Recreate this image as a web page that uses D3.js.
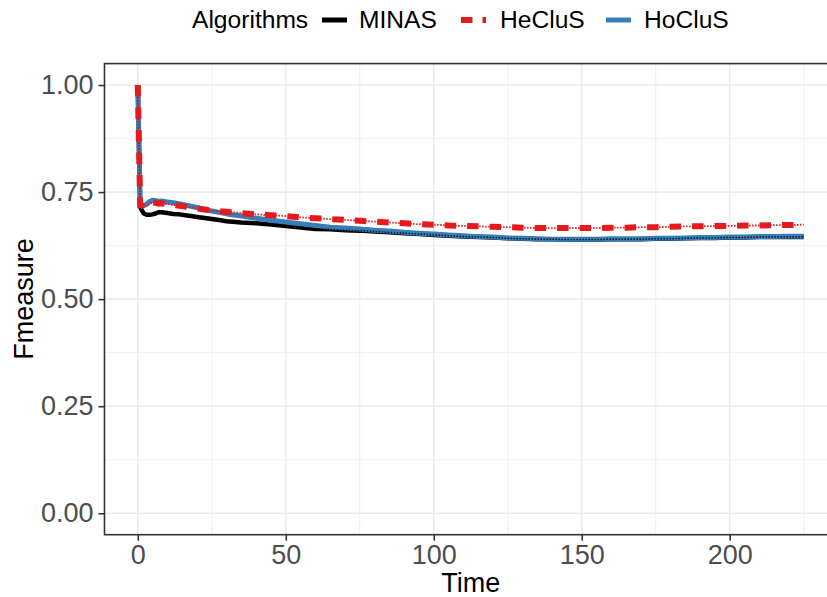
<!DOCTYPE html>
<html><head><meta charset="utf-8">
<script src="https://cdn.jsdelivr.net/npm/d3@7"></script>
<style>body{margin:0;background:#fff}svg{display:block}text{font-family:"Liberation Sans",Arial,sans-serif}</style>
</head><body>
<svg id="c" width="827" height="597"></svg>
<script>
const times = [0,0.8,1,2,3,4,5,6,7,8,10,12,14,16,18,20,22,25,28,30,35,40,45,50,55,60,65,70,75,80,85,90,95,100,105,110,115,120,125,130,135,140,145,150,155,160,165,170,175,180,185,190,195,200,205,210,215,220,225];
const minas = [1.0,0.72,0.712,0.70,0.697,0.697,0.698,0.70,0.703,0.703,0.701,0.699,0.698,0.696,0.694,0.692,0.69,0.687,0.684,0.682,0.679,0.677,0.674,0.671,0.667,0.664,0.663,0.661,0.66,0.658,0.656,0.654,0.652,0.65,0.648,0.646,0.645,0.644,0.642,0.641,0.64,0.64,0.639,0.639,0.639,0.64,0.64,0.64,0.641,0.641,0.642,0.643,0.643,0.644,0.644,0.645,0.645,0.645,0.645];
const heclus = [1.0,0.72,0.72,0.715,0.718,0.722,0.726,0.725,0.723,0.724,0.722,0.72,0.718,0.716,0.714,0.712,0.71,0.707,0.705,0.704,0.701,0.698,0.696,0.694,0.691,0.689,0.687,0.685,0.683,0.681,0.679,0.677,0.675,0.674,0.672,0.671,0.67,0.669,0.668,0.667,0.666,0.666,0.666,0.666,0.666,0.667,0.667,0.668,0.668,0.669,0.67,0.67,0.671,0.671,0.672,0.672,0.673,0.673,0.674];
const hoclus = [1.0,0.722,0.722,0.718,0.722,0.728,0.731,0.73,0.728,0.729,0.727,0.725,0.723,0.72,0.717,0.714,0.71,0.706,0.702,0.699,0.694,0.689,0.684,0.68,0.676,0.672,0.668,0.666,0.664,0.661,0.659,0.656,0.654,0.652,0.65,0.648,0.646,0.645,0.643,0.642,0.641,0.64,0.64,0.64,0.64,0.641,0.641,0.641,0.642,0.642,0.643,0.644,0.644,0.645,0.645,0.646,0.646,0.647,0.647];
const xTicks = [0,50,100,150,200];
const xMinor = [25,75,125,175,225];
const yTicks = [0,0.25,0.5,0.75,1.0];
const yMinor = [0.125,0.375,0.625,0.875];
const legendTitle = "Algorithms";
const seriesNames = ["MINAS","HeCluS","HoCluS"];

const svg = d3.select("#c");
const L = 104.5, R = 837, T = 63.6, B = 534.7;
const x = d3.scaleLinear().domain([-11.25, 236.25]).range([L, R]);
const y = d3.scaleLinear().domain([-0.05, 1.05]).range([B, T]);

svg.append("defs").append("clipPath").attr("id","clip")
  .append("rect").attr("x",L).attr("y",T).attr("width",R-L).attr("height",B-T);

const g = svg.append("g");
g.selectAll(".xm").data(xMinor).join("line").attr("x1",d=>x(d)).attr("x2",d=>x(d)).attr("y1",T).attr("y2",B).attr("stroke","#EBEBEB").attr("stroke-width",0.8);
g.selectAll(".ym").data(yMinor).join("line").attr("y1",d=>y(d)).attr("y2",d=>y(d)).attr("x1",L).attr("x2",R).attr("stroke","#EBEBEB").attr("stroke-width",0.8);
g.selectAll(".xg").data(xTicks).join("line").attr("x1",d=>x(d)).attr("x2",d=>x(d)).attr("y1",T).attr("y2",B).attr("stroke","#EBEBEB").attr("stroke-width",1.6);
g.selectAll(".yg").data(yTicks).join("line").attr("y1",d=>y(d)).attr("y2",d=>y(d)).attr("x1",L).attr("x2",R).attr("stroke","#EBEBEB").attr("stroke-width",1.6);

const line = vals => d3.line().x((d,i)=>x(times[i])).y(d=>y(d))(vals);
const lg = svg.append("g").attr("clip-path","url(#clip)");
lg.append("path").attr("d",line(minas)).attr("fill","none").attr("stroke","#000").attr("stroke-width",4.5).attr("stroke-linejoin","round");
lg.append("path").attr("d",line(hoclus)).attr("fill","none").attr("stroke","#377EB8").attr("stroke-width",5).attr("stroke-linejoin","round");
lg.append("path").attr("d",line(minas)).attr("fill","none").attr("stroke","#000").attr("stroke-width",1.5).attr("stroke-dasharray","1.5,1.5").attr("opacity",0.8);
lg.append("path").attr("d",line(heclus)).attr("fill","none").attr("stroke","#E41A1C").attr("stroke-width",1.8).attr("stroke-dasharray","1.5,1.5");
lg.append("path").attr("d",line(heclus)).attr("fill","none").attr("stroke","#E41A1C").attr("stroke-width",6).attr("stroke-dasharray","11.5,11");

svg.append("rect").attr("x",L).attr("y",T).attr("width",R-L).attr("height",B-T).attr("fill","none").attr("stroke","#333").attr("stroke-width",1.6);

const ya = svg.append("g").attr("transform",`translate(${L},0)`)
  .call(d3.axisLeft(y).tickValues(yTicks).tickFormat(d3.format(".2f")).tickSize(6).tickPadding(5));
const xa = svg.append("g").attr("transform",`translate(0,${B})`)
  .call(d3.axisBottom(x).tickValues(xTicks).tickFormat(d3.format("d")).tickSize(6).tickPadding(4));
[ya,xa].forEach(a=>{
  a.select(".domain").remove();
  a.selectAll(".tick line").attr("stroke","#333").attr("stroke-width",1.6);
  a.selectAll(".tick text").attr("fill","#4D4D4D").style("font-size","27px");
});

svg.append("text").attr("x",(L+R)/2).attr("y",592).attr("text-anchor","middle").style("font-size","27px").text("Time");
svg.append("text").attr("transform","translate(33,299) rotate(-90)").attr("text-anchor","middle").style("font-size","27px").text("Fmeasure");

const leg = svg.append("g");
leg.append("text").attr("x",192).attr("y",28).style("font-size","24.6px").text(legendTitle);
const keyX = [322, 461, 606], textX = [359, 500, 644];
const colors = ["#000","#E41A1C","#377EB8"];
seriesNames.forEach((n,i)=>{
  const k = leg.append("line").attr("x1",keyX[i]).attr("x2",keyX[i]+25).attr("y1",20).attr("y2",20).attr("stroke",colors[i]).attr("stroke-width",i===1?6:5);
  if(i===1) k.attr("stroke-dasharray","11.5,10");
  leg.append("text").attr("x",textX[i]).attr("y",28).style("font-size","24.6px").text(n);
});
</script>
</body></html>
